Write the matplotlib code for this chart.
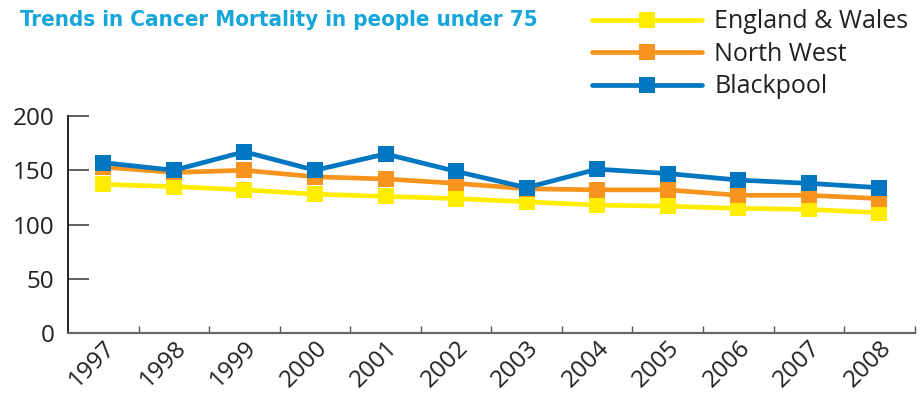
import matplotlib.pyplot as plt
from matplotlib.ticker import FixedLocator

years = [1997, 1998, 1999, 2000, 2001, 2002, 2003, 2004, 2005, 2006, 2007, 2008]
england_wales = [137, 135, 132, 128, 126, 124, 121, 118, 117, 115, 114, 111]
north_west = [153, 148, 150, 144, 142, 138, 133, 132, 132, 127, 127, 124]
blackpool = [157, 150, 167, 150, 165, 149, 134, 151, 147, 141, 138, 134]

series = [
    ("England & Wales", england_wales, "#FFED00"),
    ("North West", north_west, "#F7941D"),
    ("Blackpool", blackpool, "#0077C0"),
]

plt.rcParams["font.family"] = ["Open Sans", "DejaVu Sans"]
text_color = "#231F20"

fig = plt.figure(figsize=(9.22, 3.95), dpi=100)
ax = fig.add_axes([0.0738, 0.1557, 0.9182, 0.551])

handles = []
for label, values, color in series:
    line, = ax.plot(years, values, color=color, linewidth=3.4, marker="s",
                    markersize=11.5, markeredgewidth=0, label=label,
                    solid_capstyle="round", clip_on=False)
    handles.append(line)

ax.set_xlim(1996.5, 2008.5)
ax.set_ylim(0, 200)
ax.set_yticks([0, 50, 100, 150, 200])

# years are centred between boundary ticks
ax.set_xticks(years)
ax.tick_params(axis="x", which="major", length=0, pad=2)
ax.xaxis.set_minor_locator(FixedLocator([y + 0.5 for y in years]))
ax.tick_params(axis="x", which="minor", direction="in", length=5, width=1, color="#555555")
ax.tick_params(axis="y", direction="in", length=15, width=1.2, color="#444444", pad=10)
for lbl in ax.get_xticklabels():
    lbl.set_rotation(45)
    lbl.set_ha("right")
    lbl.set_va("top")
    lbl.set_rotation_mode("anchor")
    lbl.set_fontsize(17.5)
    lbl.set_color(text_color)
for lbl in ax.get_yticklabels():
    lbl.set_fontsize(17.5)
    lbl.set_color(text_color)

for side in ["top", "right"]:
    ax.spines[side].set_visible(False)
ax.spines["left"].set_color("#222222")
ax.spines["left"].set_linewidth(1.4)
ax.spines["bottom"].set_color("#666666")
ax.spines["bottom"].set_linewidth(1.6)

fig.text(0.0217, 0.934, "Trends in Cancer Mortality in people under 75",
         fontsize=16, fontweight="bold", fontstretch="condensed", color="#16A6D9",
         family=["DejaVu Sans"], va="baseline")

fig.legend(handles=handles, loc="upper left", bbox_to_anchor=(0.642, 0.976),
           frameon=False, fontsize=18, handlelength=4.4, handletextpad=0.5,
           labelspacing=0.3, borderpad=0, borderaxespad=0, labelcolor=text_color)

fig.savefig("out.png", dpi=100)
